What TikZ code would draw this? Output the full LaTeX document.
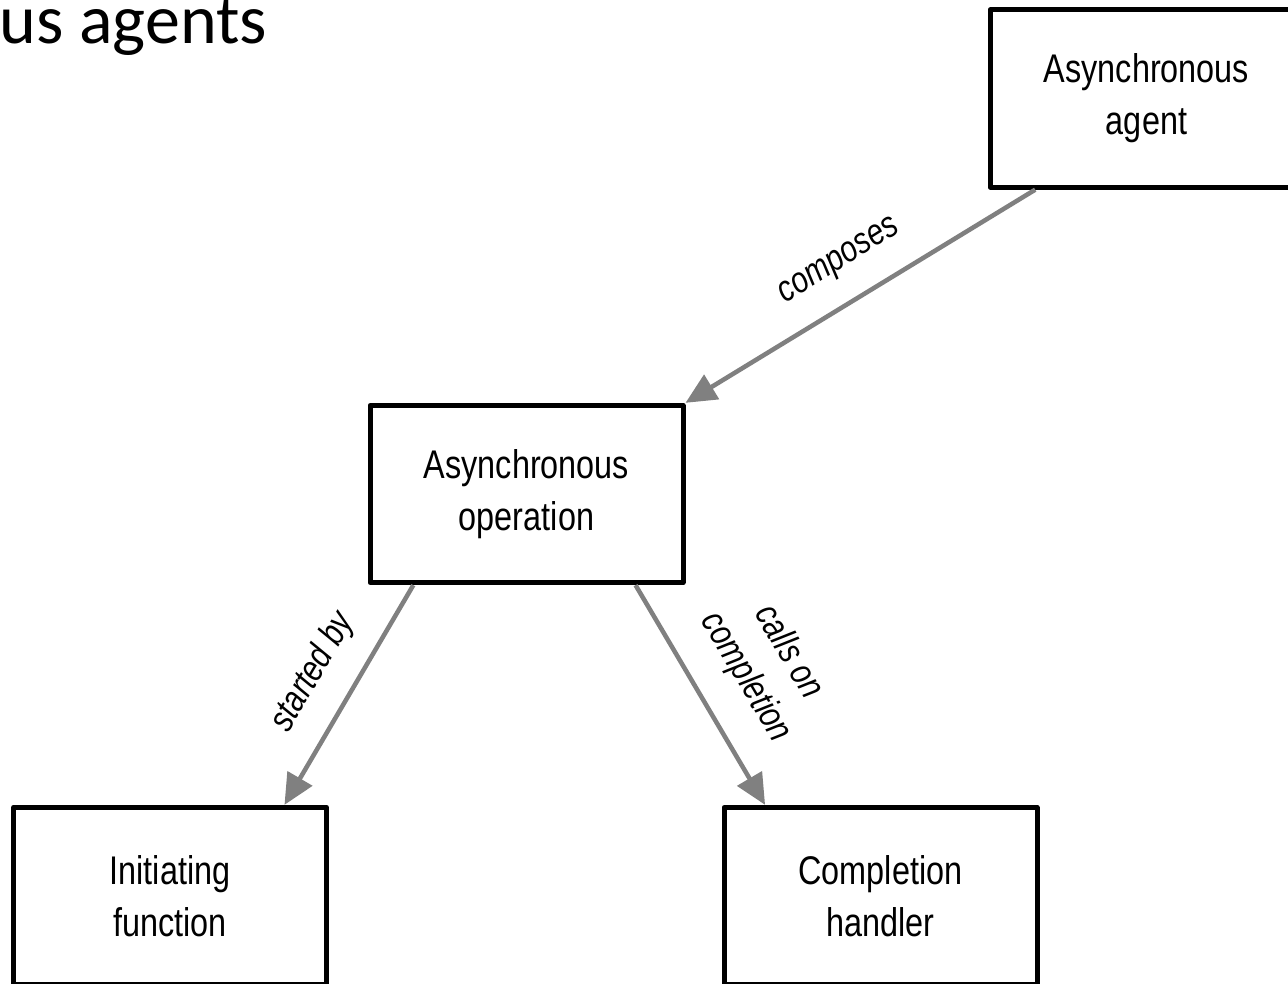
\documentclass[tikz,border=0pt]{standalone}
\usepackage{fontspec}
\usetikzlibrary{arrows.meta,calc}
\newfontfamily\narrowfont[FakeStretch=0.81]{Liberation Sans}
\newfontfamily\titlefont{Carlito}
\definecolor{linkgray}{HTML}{808080}
\begin{document}
\begin{tikzpicture}[x=0.75pt,y=-0.75pt,
  box/.style={draw=black, line width=3.75pt, line join=round, fill=white,
    minimum width=234.75pt, minimum height=133pt, align=center,
    font=\narrowfont\fontsize{30pt}{39pt}\selectfont},
  link/.style={draw=linkgray, line width=3.4pt,
    -{Triangle[length=23pt,width=21pt]}},
  lbl/.style={font=\narrowfont\itshape\fontsize{27.5pt}{37pt}\selectfont, align=center, inner sep=0pt}]
  \useasboundingbox (0,0) rectangle (1288,983);
  \clip (0,0) rectangle (1288,983);
  \fill[white] (0,0) rectangle (1288,983);

  % heading fragment
  \node[anchor=base west, inner sep=0pt, font=\titlefont\fontsize{52.5pt}{62pt}\selectfont] (title) at (-1,43) {us agents};

  % boxes
  \node[box] (agent) at (1146.5,98.5) {Asynchronous\\agent};
  \node[box] (op) at (526.5,494) {Asynchronous\\operation};
  \node[box] (init) at (170,896) {Initiating\\function};
  \node[box] (comp) at (880.5,896) {Completion\\handler};

  % connectors
  \draw[link] ($(agent.south west)!0.15!(agent.south east)$) -- (op.north east);
  \draw[link] ($(op.south west)!0.144!(op.south east)$) -- ($(init.north west)!0.86!(init.north east)$);
  \draw[link] ($(op.south west)!0.843!(op.south east)$) -- ($(comp.north west)!0.137!(comp.north east)$);

  % connector labels
  \node[lbl, rotate=32] (lcomp) at (840,262) {composes};
  \node[lbl, rotate=59.5] (lstart) at (313,672) {started by};
  \node[lbl, rotate=-59.3] (lcalls) at (767,665) {calls on\\completion};
\end{tikzpicture}
\end{document}
